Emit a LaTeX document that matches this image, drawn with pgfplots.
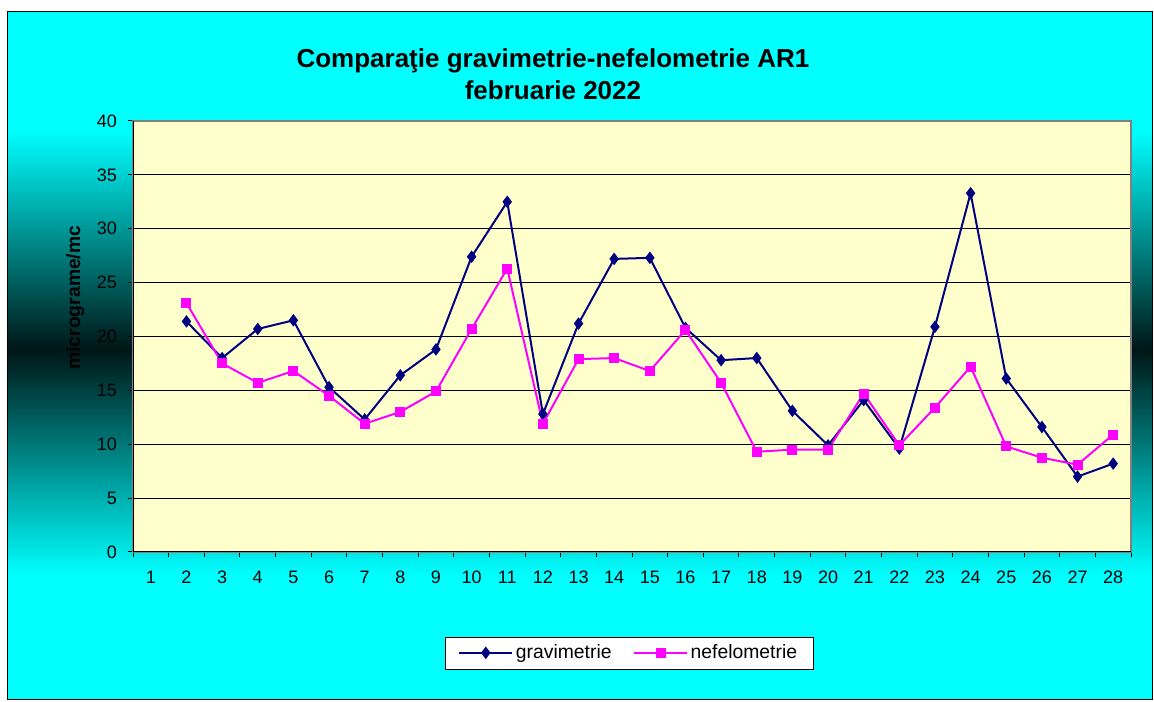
\documentclass[border=0pt]{standalone}
\usepackage{pgfplots}
\pgfplotsset{compat=1.18}
\usepackage{fontspec}
\setmainfont{Liberation Sans}
\definecolor{cy}{RGB}{0,255,255}
\definecolor{dk}{RGB}{0,22,22}
\definecolor{plotbg}{RGB}{255,255,204}
\definecolor{grav}{RGB}{0,0,128}
\definecolor{nef}{RGB}{255,0,255}
\pgfdeclareverticalshading{bgshade}{100bp}{color(0bp)=(cy); color(34.1bp)=(cy); color(50.45bp)=(dk); color(66.4bp)=(cy); color(100bp)=(cy)}
\begin{document}
\begin{tikzpicture}
\path[fill=white] (0,0) rectangle (865.5pt,526.5pt);
\shade[shading=bgshade] (5.25pt,1.5pt) rectangle (864pt,517.5pt);
\draw[black,line width=0.75pt] (5.25pt,1.5pt) rectangle (864pt,517.5pt);
\node[font=\bfseries\fontsize{19.5}{24}\selectfont, align=center] at (414.75pt,470.5pt) {Comparaţie gravimetrie-nefelometrie AR1\\februarie 2022};
\begin{axis}[
  at={(99.75pt,112.5pt)}, anchor=south west,
  width=748.5pt, height=323.25pt, scale only axis,
  xmin=0.5, xmax=28.5, ymin=0, ymax=40,
  axis background/.style={fill=plotbg},
  axis line style={draw=gray, line width=0.9pt},
  ytick={0,5,...,40},
  xtick={1,...,28},
  minor xtick={0.5,1.5,...,28.5},
  major x tick style={draw=none},
  minor x tick style={black, line width=0.75pt},
  major y tick style={black, line width=0.75pt},
  tick align=outside, tick pos=left,
  major tick length=4pt, minor tick length=4pt,
  ymajorgrids, grid style={black, line width=0.75pt},
  ticklabel style={font=\fontsize{13.5}{16}\selectfont},
  /pgf/number format/assume math mode=true,
  xticklabel style={yshift=-7pt},
  yticklabel style={xshift=-4.5pt},
  ylabel={\bfseries micrograme/mc},
  ylabel style={font=\fontsize{14.5}{17}\selectfont, at={(axis description cs:-0.058,0.59)}, anchor=center},
  legend style={at={(0.497,-0.234)}, anchor=center, legend columns=2, draw=black, fill=white, font=\fontsize{14.5}{17}\selectfont, /tikz/every even column/.append style={column sep=14pt}, inner xsep=10pt, inner ysep=4pt},
  legend image code/.code={\draw[mark repeat=2,mark phase=2] plot coordinates {(0cm,0cm) (0.7cm,0cm) (1.4cm,0cm)};},
]
\addplot[grav, line width=1.5pt, mark=diamond*, mark size=3.5pt, mark options={fill=grav}] coordinates {
(2,21.4)(3,18.0)(4,20.7)(5,21.5)(6,15.3)(7,12.3)(8,16.4)(9,18.8)(10,27.4)(11,32.5)(12,12.8)(13,21.2)(14,27.2)(15,27.3)(16,20.8)(17,17.8)(18,18.0)(19,13.1)(20,9.9)(21,14.1)(22,9.6)(23,20.9)(24,33.3)(25,16.1)(26,11.6)(27,7.0)(28,8.2)};
\addlegendentry{gravimetrie}
\addplot[nef, line width=1.5pt, mark=square*, mark size=3pt, mark options={fill=nef}] coordinates {
(2,23.1)(3,17.5)(4,15.7)(5,16.8)(6,14.5)(7,11.9)(8,13.0)(9,14.9)(10,20.7)(11,26.3)(12,11.9)(13,17.9)(14,18.0)(15,16.8)(16,20.6)(17,15.7)(18,9.3)(19,9.5)(20,9.5)(21,14.7)(22,9.9)(23,13.4)(24,17.2)(25,9.8)(26,8.75)(27,8.1)(28,10.9)};
\addlegendentry{nefelometrie}
\draw[black, line width=0.9pt] (rel axis cs:0,1) -- (rel axis cs:0,0) -- (rel axis cs:1,0);
\end{axis}
\end{tikzpicture}
\end{document}
